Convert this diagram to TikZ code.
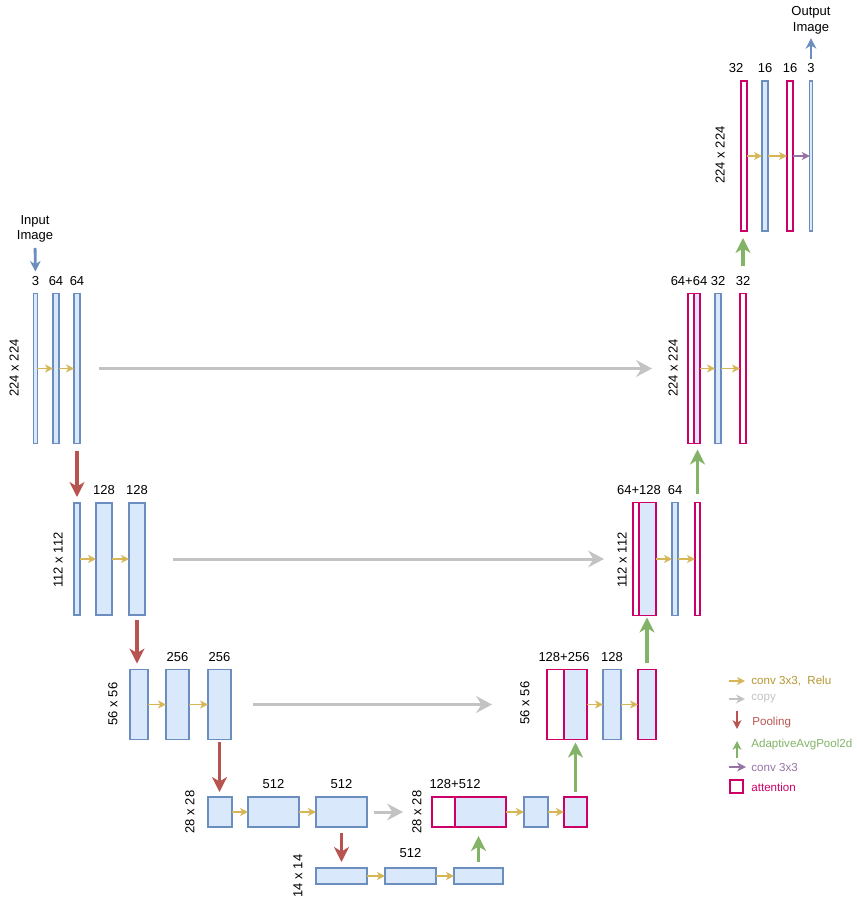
\documentclass[tikz,border=0pt]{standalone}
\usepackage{fontspec}
\setmainfont{Liberation Sans}
\usepackage{tikz}
\usetikzlibrary{positioning,arrows.meta}
\definecolor{mapfill} {HTML}{DAE8FC}
\definecolor{mapdraw} {HTML}{6C8EBF}
\definecolor{attcol}  {RGB}{204,0,102}
\definecolor{convcol} {HTML}{D6B656}
\definecolor{convtxt} {RGB}{180,150,50}
\definecolor{copycol} {RGB}{195,195,195}
\definecolor{poolcol} {HTML}{B85450}
\definecolor{upcol}   {HTML}{82B366}
\definecolor{plaincol}{HTML}{9673A6}
\definecolor{iocol}   {HTML}{6C8EBF}

\begin{document}
\begin{tikzpicture}[x=0.02cm,y=-0.02cm,
  fmap/.style={rectangle,draw=mapdraw,fill=mapfill,line width=0.6pt,
               inner sep=0pt,outer sep=0pt},
  abox/.style={rectangle,draw=attcol,fill=mapfill,line width=0.6pt,
               inner sep=0pt,outer sep=0pt},
  ablank/.style={abox,fill=white},
  lbl/.style={font=\fontsize{7.4}{8.9}\selectfont,inner sep=0pt},
  dim/.style={lbl,rotate=90},
  leg/.style={font=\fontsize{6.6}{8}\selectfont,inner sep=0pt,anchor=west},
  conv/.style={-{Stealth[length=4.5pt,width=4.5pt,inset=1.2pt]},
               line width=0.85pt,convcol},
  plain/.style={conv,plaincol},
  copyarr/.style={-{Stealth[length=9pt,width=9.5pt,inset=3pt]},
               line width=1.7pt,copycol},
  pool/.style={-{Stealth[length=8.5pt,width=8.5pt,inset=2.5pt]},
               line width=1.8pt,poolcol},
  upool/.style={pool,upcol},
  ioarr/.style={-{Stealth[length=6pt,width=6pt,inset=1.8pt]},
               line width=1.6pt,iocol},
  keyarr/.style={line width=1.1pt,-{Stealth[length=5pt,width=5pt,inset=1.4pt]}},
  node distance=0.16cm
]
\useasboundingbox (0,0) rectangle (856,906);
% encoder 224
\node[fmap,minimum width=0.07cm,minimum height=3cm] (e1a) at (35.5,368.5) {};
\node[fmap,minimum width=0.12cm,minimum height=3cm] (e1b) at (56,368.5) {};
\node[fmap,minimum width=0.12cm,minimum height=3cm] (e1c) at (77,368.5) {};
\node[lbl,above=of e1a] (le1a) {3};
\node[lbl,above=of e1b] {64};
\node[lbl,above=of e1c] {64};
\node[dim] at (14,368) {224 x 224};
\node[lbl,align=center] (inp) at (35,229) {Input\\Image};
\draw[conv] (e1a.east)--(e1b.west);
\draw[conv] (e1b.east)--(e1c.west);
\draw[ioarr,shorten <=0.1cm,shorten >=0.08cm] (inp.south)--(le1a.north);
% encoder 112
\node[fmap,minimum width=0.12cm,minimum height=2.24cm] (e2a) at (77,559) {};
\node[fmap,minimum width=0.32cm,minimum height=2.24cm] (e2b) at (104,559) {};
\node[fmap,minimum width=0.32cm,minimum height=2.24cm] (e2c) at (137,559) {};
\node[lbl,above=of e2b] {128};
\node[lbl,above=of e2c] {128};
\node[dim] at (58,560) {112 x 112};
\draw[conv] (e2a.east)--(e2b.west);
\draw[conv] (e2b.east)--(e2c.west);
% encoder 56
\node[fmap,minimum width=0.36cm,minimum height=1.4cm] (e3a) at (139,704.5) {};
\node[fmap,minimum width=0.46cm,minimum height=1.4cm] (e3b) at (177.5,704.5) {};
\node[fmap,minimum width=0.46cm,minimum height=1.4cm] (e3c) at (219.5,704.5) {};
\node[lbl,above=of e3b] {256};
\node[lbl,above=of e3c] {256};
\node[dim] at (113,704) {56 x 56};
\draw[conv] (e3a.east)--(e3b.west);
\draw[conv] (e3b.east)--(e3c.west);
% encoder 28
\node[fmap,minimum width=0.48cm,minimum height=0.6cm] (e4a) at (220,812) {};
\node[fmap,minimum width=1.02cm,minimum height=0.6cm] (e4b) at (273.5,812) {};
\node[fmap,minimum width=1.02cm,minimum height=0.6cm] (e4c) at (341.5,812) {};
\node[lbl,above=of e4b] {512};
\node[lbl,above=of e4c] {512};
\node[dim] at (190,812) {28 x 28};
\draw[conv] (e4a.east)--(e4b.west);
\draw[conv] (e4b.east)--(e4c.west);
% bottleneck 14
\node[fmap,minimum width=1.02cm,minimum height=0.32cm] (b1) at (341.5,876) {};
\node[fmap,minimum width=1.02cm,minimum height=0.32cm] (b2) at (410.5,876) {};
\node[fmap,minimum width=0.98cm,minimum height=0.32cm] (b3) at (478.5,876) {};
\node[lbl,above=0.2cm of b2] {512};
\node[dim] at (298,876) {14 x 14};
\draw[conv] (b1.east)--(b2.west);
\draw[conv] (b2.east)--(b3.west);
% decoder 28
\node[ablank,minimum width=0.46cm,minimum height=0.6cm] (d4l) at (443.5,812) {};
\node[abox,minimum width=1.02cm,minimum height=0.6cm] (d4r) at (480.5,812) {};
\node[fmap,minimum width=0.48cm,minimum height=0.6cm] (d4b) at (536,812) {};
\node[abox,minimum width=0.46cm,minimum height=0.6cm] (d4c) at (575.5,812) {};
\node[lbl,above=of d4l.north east] {128+512};
\node[dim] at (417,812) {28 x 28};
\draw[conv] (d4r.east)--(d4b.west);
\draw[conv] (d4b.east)--(d4c.west);
% decoder 56
\node[ablank,minimum width=0.34cm,minimum height=1.4cm] (d3l) at (555.5,704.5) {};
\node[abox,minimum width=0.46cm,minimum height=1.4cm] (d3r) at (575.5,704.5) {};
\node[fmap,minimum width=0.36cm,minimum height=1.4cm] (d3b) at (612,704.5) {};
\node[abox,minimum width=0.36cm,minimum height=1.4cm] (d3c) at (647,704.5) {};
\node[lbl,above=of d3l.north east] {128+256};
\node[lbl,above=of d3b] {128};
\node[dim] at (525,703) {56 x 56};
\draw[conv] (d3r.east)--(d3b.west);
\draw[conv] (d3b.east)--(d3c.west);
% decoder 112
\node[ablank,minimum width=0.12cm,minimum height=2.26cm] (d2l) at (636,559) {};
\node[abox,minimum width=0.34cm,minimum height=2.26cm] (d2r) at (647.5,559) {};
\node[fmap,minimum width=0.12cm,minimum height=2.26cm] (d2b) at (675,559) {};
\node[ablank,minimum width=0.10cm,minimum height=2.26cm] (d2c) at (697.5,559) {};
\node[lbl,above=of d2l.north east] {64+128};
\node[lbl,above=of d2b] {64};
\node[dim] at (622,560) {112 x 112};
\draw[conv] (d2r.east)--(d2b.west);
\draw[conv] (d2b.east)--(d2c.west);
% decoder 224
\node[ablank,minimum width=0.12cm,minimum height=3cm] (d1l) at (691,368.5) {};
\node[abox,minimum width=0.12cm,minimum height=3cm] (d1r) at (697,368.5) {};
\node[fmap,minimum width=0.12cm,minimum height=3cm] (d1b) at (718,368.5) {};
\node[ablank,minimum width=0.12cm,minimum height=3cm] (d1c) at (743,368.5) {};
\node[lbl,above=of d1l.north east,xshift=-0.1cm] {64+64};
\node[lbl,above=of d1b] {32};
\node[lbl,above=of d1c] (ld1c) {32};
\node[dim] at (673,368) {224 x 224};
\draw[conv] (d1r.east)--(d1b.west);
\draw[conv] (d1b.east)--(d1c.west);
% output 224
\node[ablank,minimum width=0.12cm,minimum height=3cm] (t1) at (744,156) {};
\node[fmap,minimum width=0.12cm,minimum height=3cm] (t2) at (765,156) {};
\node[ablank,minimum width=0.12cm,minimum height=3cm] (t3) at (790,156) {};
\node[fmap,minimum width=0.05cm,minimum height=3cm] (t4) at (811,156) {};
\node[lbl,above=of t1,xshift=-0.16cm] {32};
\node[lbl,above=of t2] {16};
\node[lbl,above=of t3] {16};
\node[lbl,above=of t4] (lt4) {3};
\node[dim] at (720,155) {224 x 224};
\node[lbl,align=center] (outp) at (811,20) {Output\\Image};
\draw[conv] (t1.east)--(t2.west);
\draw[conv] (t2.east)--(t3.west);
\draw[plain] (t3.east)--(t4.west);
\draw[ioarr,shorten <=0.08cm,shorten >=0.08cm] (lt4.north)--(outp.south);
% skip connections
\draw[copyarr,shorten <=0.38cm,shorten >=0.72cm] (e1c.east)--(d1l.west);
\draw[copyarr,shorten <=0.56cm,shorten >=0.58cm] (e2c.east)--(d2l.west);
\draw[copyarr,shorten <=0.44cm,shorten >=1.1cm] (e3c.east)--(d3l.west);
\draw[copyarr,shorten <=0.14cm,shorten >=0.58cm] (e4c.east)--(d4l.west);
% pooling
\draw[pool,shorten <=0.16cm,shorten >=0.12cm] (e1c.south)--(e2a.north);
\draw[pool,shorten <=0.1cm,shorten >=0.12cm] (e2c.south)--(e2c.south|-e3a.north);
\draw[pool,shorten <=0.05cm,shorten >=0.1cm] (e3c.south)--(e3c.south|-e4a.north);
\draw[pool,shorten <=0.12cm,shorten >=0.12cm] (e4c.south)--(b1.north);
% upsampling
\draw[upool,shorten <=0.12cm,shorten >=0.18cm] (b3.north)--(b3.north|-d4r.south);
\draw[upool,shorten <=0.1cm,shorten >=0.06cm] (d4c.north)--(d3r.south);
\draw[upool,shorten <=0.14cm,shorten >=0.04cm] (d3c.north)--(d3c.north|-d2r.south);
\draw[upool,shorten <=0.18cm,shorten >=0.12cm] (d2c.north)--(d2c.north|-d1r.south);
\draw[upool,shorten <=0.2cm,shorten >=0.14cm] (ld1c.north)--(ld1c.north|-t1.south);
% legend
\node[leg,text=convtxt] (k1) at (751,681) {conv 3x3,\ \ Relu};
\node[leg,text=copycol] (k2) at (751,699) {copy};
\node[leg,text=poolcol] (k3) at (752,722) {Pooling};
\node[leg,text=upcol] (k4) at (751,744) {AdaptiveAvgPool2d};
\node[leg,text=plaincol] (k5) at (751,767) {conv 3x3};
\node[leg,text=attcol] (k6) at (751,787) {attention};
\coordinate (k1a) at (729,681);
\coordinate (k2a) at (729,699);
\coordinate (k3a) at (737,711);
\coordinate (k3b) at (737,729);
\coordinate (k4a) at (737,758);
\coordinate (k4b) at (737,741);
\coordinate (k5a) at (729,767);
\draw[conv,shorten >=0.12cm] (k1a)--(k1.west);
\draw[copyarr,keyarr,shorten >=0.12cm] (k2a)--(k2.west);
\draw[pool,keyarr] (k3a)--(k3b);
\draw[upool,keyarr] (k4a)--(k4b);
\draw[plain,keyarr,line width=0.85pt,shorten >=0.1cm] (k5a)--(k5.west);
\node[ablank,minimum width=0.26cm,minimum height=0.26cm] (k6a) at (736.5,786.5) {};
\end{tikzpicture}
\end{document}
